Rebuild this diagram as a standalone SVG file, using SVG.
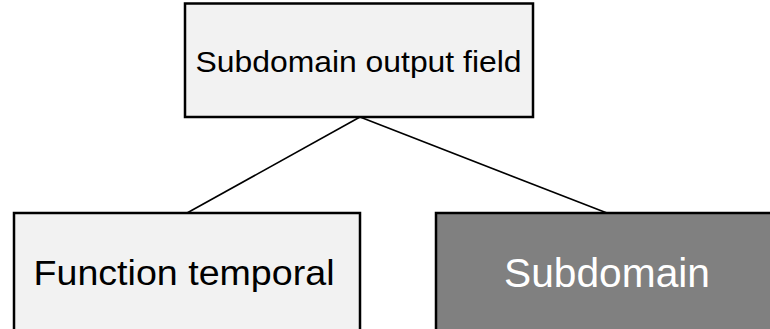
<svg xmlns="http://www.w3.org/2000/svg" width="770" height="329" viewBox="0 0 770 329">
  <style>
    .box { stroke: #000; stroke-width: 2.5; }
    .light { fill: #f2f2f2; }
    .dark { fill: #808080; }
    .lbl { font-family: "Liberation Sans", Arial, sans-serif; }
    .conn { stroke: #000; stroke-width: 1.6; fill: none; }
  </style>
  <rect width="770" height="329" fill="#ffffff"/>
  <g id="connectors">
    <line class="conn" x1="360" y1="117" x2="187" y2="213"/>
    <line class="conn" x1="360" y1="117" x2="607" y2="213"/>
  </g>
  <g id="node-output-field">
    <rect class="box light" x="185" y="3.5" width="348" height="113.5"/>
    <text class="lbl" x="195.5" y="72" font-size="30" fill="#000" textLength="326" lengthAdjust="spacingAndGlyphs">Subdomain output  field</text>
  </g>
  <g id="node-function-temporal">
    <rect class="box light" x="14" y="213" width="346" height="130"/>
    <text class="lbl" x="33.5" y="284.5" font-size="35" fill="#000" textLength="301" lengthAdjust="spacingAndGlyphs">Function temporal</text>
  </g>
  <g id="node-subdomain">
    <rect class="box dark" x="436" y="213" width="340" height="130"/>
    <text class="lbl" x="504" y="287" font-size="40" fill="#ffffff" textLength="206" lengthAdjust="spacingAndGlyphs">Subdomain</text>
  </g>
</svg>
